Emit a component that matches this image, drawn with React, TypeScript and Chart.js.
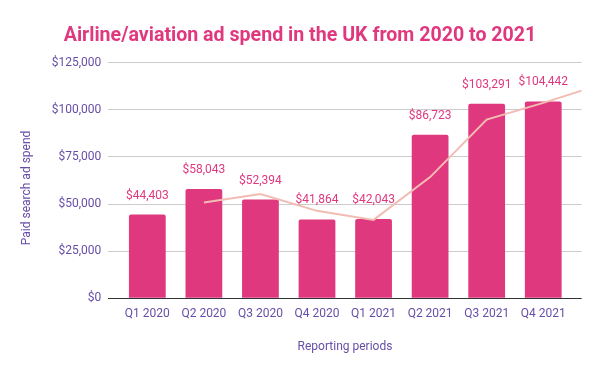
import React, { useEffect, useRef } from "react";
import { Chart, registerables } from "chart.js";

Chart.register(...registerables);

const categories = ["Q1 2020", "Q2 2020", "Q3 2020", "Q4 2020", "Q1 2021", "Q2 2021", "Q3 2021", "Q4 2021"];
const spendValues = [44403, 58043, 52394, 41864, 42043, 86723, 103291, 104442];
const trendPositions = [1, 2, 3, 4, 5, 6, 7, 7.68];
const trendValues = [50800, 55300, 46400, 41600, 64300, 94800, 103700, 110200];
const yTickValues = [0, 25000, 50000, 75000, 100000, 125000];

const PINK = "#e0387f";
const PURPLE = "#674ea7";
const TREND = "#f2bcb3";

const fmt = (v: number) => "$" + v.toLocaleString("en-US");

const barLabelPlugin = {
  id: "barLabels",
  afterDatasetsDraw(chart: any) {
    const ctx = chart.ctx;
    const meta = chart.getDatasetMeta(0);
    ctx.save();
    ctx.font = "12px Roboto";
    ctx.fillStyle = PINK;
    ctx.textAlign = "center";
    ctx.textBaseline = "middle";
    meta.data.forEach((el: any, i: number) => {
      ctx.fillText(fmt(spendValues[i]), el.x, el.y - 19);
    });
    ctx.restore();
  },
};

export default function App() {
  const ref = useRef<HTMLCanvasElement>(null);
  useEffect(() => {
    if (!ref.current) return;
    Chart.defaults.font.family = "Roboto";
    const chart = new Chart(ref.current, {
      type: "bar",
      data: {
        datasets: [
          {
            type: "bar",
            data: spendValues.map((v, i) => ({ x: i, y: v })),
            backgroundColor: PINK,
            borderRadius: 2,
            borderSkipped: "bottom",
            categoryPercentage: 1,
            barPercentage: 0.65,
            order: 2,
          } as any,
          {
            type: "line",
            data: trendPositions.map((x, i) => ({ x, y: trendValues[i] })),
            borderColor: TREND,
            borderWidth: 2,
            pointRadius: 0,
            tension: 0,
            order: 1,
          } as any,
        ],
      },
      options: {
        responsive: false,
        animation: false,
        layout: { padding: 0 },
        plugins: {
          legend: { display: false },
          tooltip: { enabled: false },
          title: {
            display: true,
            text: "Airline/aviation ad spend in the UK from 2020 to 2021",
            color: PINK,
            font: { size: 19.6, weight: "bold", family: "Roboto" },
            padding: { top: 24.7, bottom: 14.5 },
          },
        },
        scales: {
          x: {
            type: "linear",
            offset: false,
            min: -0.69,
            max: 7.68,
            grid: { display: false, offset: false },
            border: { display: false },
            afterBuildTicks: (axis: any) => {
              axis.ticks = categories.map((_, i) => ({ value: i }));
            },
            afterFit: (axis: any) => {
              axis.height = 72.7;
            },
            ticks: {
              color: PURPLE,
              font: { size: 12 },
              padding: 0,
              maxRotation: 0,
              autoSkip: false,
              callback: (v: any) => categories[v as number] ?? "",
            },
            title: {
              display: true,
              text: "Reporting periods",
              color: PURPLE,
              font: { size: 12 },
              padding: { top: 0, bottom: 16.8 },
            },
          },
          y: {
            min: 0,
            max: 125000,
            afterBuildTicks: (axis: any) => {
              axis.ticks = yTickValues.map((v) => ({ value: v }));
            },
            afterFit: (axis: any) => {
              axis.width = 108.3;
            },
            grid: {
              drawTicks: false,
              color: (c: any) => (c.tick && c.tick.value === 0 ? "#333333" : "#cccccc"),
            },
            border: { display: false },
            ticks: {
              color: PURPLE,
              font: { size: 12 },
              padding: 7,
              callback: (v: any) => fmt(v as number),
            },
            title: {
              display: true,
              text: "Paid search ad spend     ",
              color: PURPLE,
              font: { size: 12 },
              padding: { top: 19.5, bottom: 0 },
            },
          },
          yRight: {
            position: "right",
            display: true,
            grid: { display: false },
            border: { display: false },
            ticks: { display: false },
            afterFit: (axis: any) => {
              axis.width = 18.3;
            },
          },
        },
      } as any,
      plugins: [barLabelPlugin],
    });
    return () => chart.destroy();
  }, []);
  return (
    <div style={{ position: "absolute", left: 0, top: 0, width: 600, height: 371, background: "#fff" }}>
      <canvas ref={ref} width={600} height={371} style={{ display: "block" }} />
    </div>
  );
}
